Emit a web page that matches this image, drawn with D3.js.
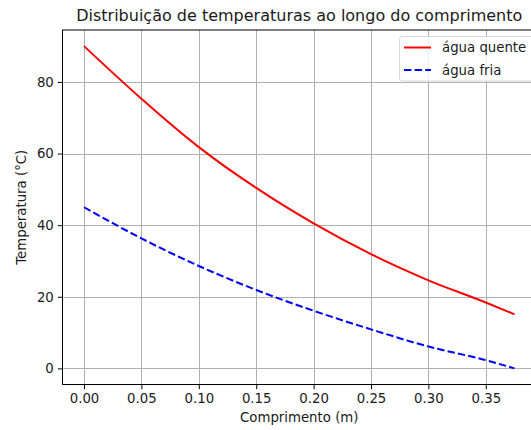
<!DOCTYPE html>
<html>
<head>
<meta charset="utf-8">
<script src="https://cdn.jsdelivr.net/npm/d3@7"></script>
<style>
  body { margin: 0; background: #fff; }
  text { font-family: "DejaVu Sans", sans-serif; fill: #1a1a1a; }
</style>
</head>
<body>
<div id="chart"></div>
<script>
// valores
var comprimento = [0.00, 0.05, 0.10, 0.15, 0.20, 0.25, 0.30, 0.35, 0.375];
var aguaQuente  = [90.0, 75.3, 61.8, 50.4, 40.5, 31.9, 24.6, 18.4, 15.1];
var aguaFria    = [45.0, 36.3, 28.6, 21.9, 16.1, 10.9, 6.1, 2.3, 0.0];
var xTicks = [0.00, 0.05, 0.10, 0.15, 0.20, 0.25, 0.30, 0.35];
var yTicks = [0, 20, 40, 60, 80];
var series = [
  {nome: "água quente", valores: aguaQuente, cor: "#ff0000", dash: null},
  {nome: "água fria", valores: aguaFria, cor: "#0000ff", dash: "7.4,3.2"}
];

var W = 531, H = 430;
var ax = {left: 62.5, top: 30, right: 536, bottom: 384.5};

var svg = d3.select("#chart").append("svg")
  .attr("width", W)
  .attr("height", H);

var x = d3.scaleLinear().domain([-0.01875, 0.39375]).range([ax.left, ax.right]);
var y = d3.scaleLinear().domain([-4.5, 94.5]).range([ax.bottom, ax.top]);

var clip = svg.append("clipPath").attr("id", "clip")
  .append("rect")
  .attr("x", ax.left).attr("y", ax.top)
  .attr("width", ax.right - ax.left).attr("height", ax.bottom - ax.top);

// grade
var grid = svg.append("g").attr("clip-path", "url(#clip)");
grid.selectAll(".gx").data(xTicks).enter().append("line")
  .attr("x1", function(d){return Math.round(x(d)) + 0.5})
  .attr("x2", function(d){return Math.round(x(d)) + 0.5})
  .attr("y1", ax.top).attr("y2", ax.bottom)
  .style("stroke", "#b0b0b0").style("stroke-width", 1);
grid.selectAll(".gy").data(yTicks).enter().append("line")
  .attr("y1", function(d){return Math.round(y(d)) + 0.5})
  .attr("y2", function(d){return Math.round(y(d)) + 0.5})
  .attr("x1", ax.left).attr("x2", ax.right)
  .style("stroke", "#b0b0b0").style("stroke-width", 1);

// curvas
var linha = d3.line()
  .x(function(d){return x(d[0])})
  .y(function(d){return y(d[1])})
  .curve(d3.curveMonotoneX);

var plot = svg.append("g").attr("clip-path", "url(#clip)");
series.forEach(function(s){
  plot.append("path")
    .datum(comprimento.map(function(c, i){return [c, s.valores[i]]}))
    .attr("d", linha)
    .style("fill", "none")
    .style("stroke", s.cor)
    .style("stroke-width", 2)
    .style("stroke-dasharray", s.dash);
});

// eixos
var xAxis = d3.axisBottom(x).tickValues(xTicks).tickFormat(d3.format(".2f"))
  .tickSizeInner(4.7).tickSizeOuter(0).tickPadding(4);
var yAxis = d3.axisLeft(y).tickValues(yTicks).tickFormat(d3.format("d"))
  .tickSizeInner(4.7).tickSizeOuter(0).tickPadding(4);

var gx = svg.append("g")
  .attr("transform", "translate(0," + ax.bottom + ")")
  .call(xAxis);
var gy = svg.append("g")
  .attr("transform", "translate(" + ax.left + ",0)")
  .call(yAxis);
[gx, gy].forEach(function(g){
  g.select(".domain").remove();
  g.selectAll("line").style("stroke", "#000").style("stroke-width", 1);
  g.selectAll("text").style("font-size", "13.3px").style("fill", "#1a1a1a");
});

// moldura
svg.append("rect")
  .attr("x", ax.left).attr("y", ax.top)
  .attr("width", ax.right - ax.left).attr("height", ax.bottom - ax.top)
  .style("fill", "none").style("stroke", "#000").style("stroke-width", 1);

// textos
svg.append("text")
  .attr("x", (ax.left + ax.right) / 2).attr("y", 21)
  .style("text-anchor", "middle").style("font-size", "16px")
  .text("Distribuição de temperaturas ao longo do comprimento");

svg.append("text")
  .attr("x", (ax.left + ax.right) / 2).attr("y", 422)
  .style("text-anchor", "middle").style("font-size", "13.3px")
  .text("Comprimento (m)");

svg.append("text")
  .attr("transform", "translate(26," + ((ax.top + ax.bottom) / 2) + ") rotate(-90)")
  .style("text-anchor", "middle").style("font-size", "13.3px")
  .text("Temperatura (°C)");

// legenda
var leg = svg.append("g");
leg.append("rect")
  .attr("x", 399.5).attr("y", 36.5)
  .attr("width", 135).attr("height", 44.5)
  .attr("rx", 3)
  .style("fill", "#fff").style("fill-opacity", 0.8)
  .style("stroke", "#d6d6d6").style("stroke-width", 1);
series.forEach(function(s, i){
  var cy = 47.5 + i * 22.5;
  leg.append("line")
    .attr("x1", 404).attr("x2", 431)
    .attr("y1", cy).attr("y2", cy)
    .style("stroke", s.cor).style("stroke-width", 2)
    .style("stroke-dasharray", s.dash);
  leg.append("text")
    .attr("x", 442).attr("y", cy + 4.5)
    .style("font-size", "13.3px")
    .text(s.nome);
});
</script>
</body>
</html>
